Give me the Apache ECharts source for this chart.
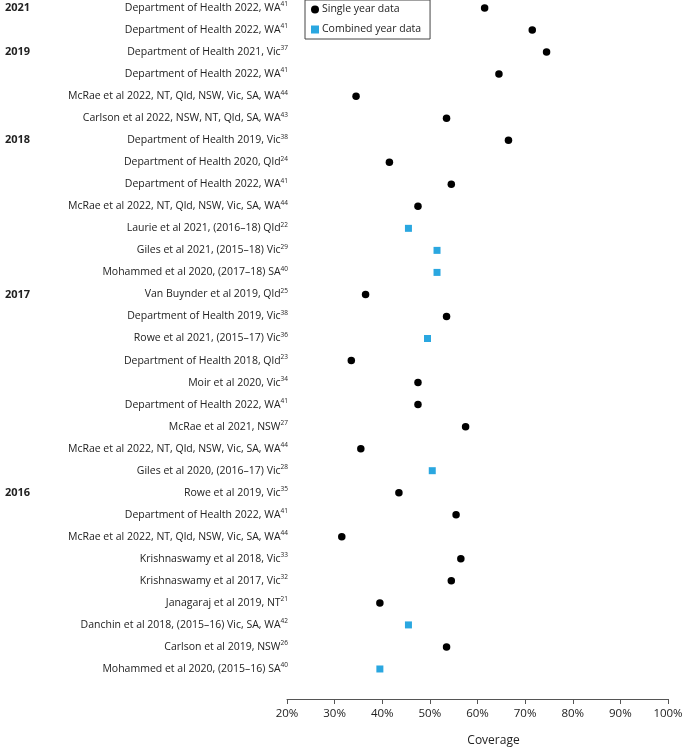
<!DOCTYPE html>
<html>
<head>
<meta charset="utf-8">
<script src="https://cdn.jsdelivr.net/npm/echarts@6/dist/echarts.min.js"></script>
<style>
  html, body { margin: 0; padding: 0; background: #fff; }
  #chart { width: 685px; height: 748px; }
</style>
</head>
<body>
<div id="chart"></div>
<script>
// study labels, top to bottom
const studies = [
  'Department of Health 2022, WA',
  'Department of Health 2022, WA',
  'Department of Health 2021, Vic',
  'Department of Health 2022, WA',
  'McRae et al 2022, NT, Qld, NSW, Vic, SA, WA',
  'Carlson et al 2022, NSW, NT, Qld, SA, WA',
  'Department of Health 2019, Vic',
  'Department of Health 2020, Qld',
  'Department of Health 2022, WA',
  'McRae et al 2022, NT, Qld, NSW, Vic, SA, WA',
  'Laurie et al 2021, (2016–18) Qld',
  'Giles et al 2021, (2015–18) Vic',
  'Mohammed et al 2020, (2017–18) SA',
  'Van Buynder et al 2019, Qld',
  'Department of Health 2019, Vic',
  'Rowe et al 2021, (2015–17) Vic',
  'Department of Health 2018, Qld',
  'Moir et al 2020, Vic',
  'Department of Health 2022, WA',
  'McRae et al 2021, NSW',
  'McRae et al 2022, NT, Qld, NSW, Vic, SA, WA',
  'Giles et al 2020, (2016–17) Vic',
  'Rowe et al 2019, Vic',
  'Department of Health 2022, WA',
  'McRae et al 2022, NT, Qld, NSW, Vic, SA, WA',
  'Krishnaswamy et al 2018, Vic',
  'Krishnaswamy et al 2017, Vic',
  'Janagaraj et al 2019, NT',
  'Danchin et al 2018, (2015–16) Vic, SA, WA',
  'Carlson et al 2019, NSW',
  'Mohammed et al 2020, (2015–16) SA'
];
const refs = ['41','41','37','41','44','43','38','24','41','44','22','29','40','25','38','36','23','34','41','27','44','28','35','41','44','33','32','21','42','26','40'];
const yearLabels = ['2021','','2019','','','','2018','','','','','','','2017','','','','','','','','','2016','','','','','','','',''];
// coverage %, and S = single year, C = combined years
const coverage = [61.5,71.5,74.5,64.5,34.5,53.5,66.5,41.5,54.5,47.5,45.5,51.5,51.5,36.5,53.5,49.5,33.5,47.5,47.5,57.5,35.5,50.5,43.5,55.5,31.5,56.5,54.5,39.5,45.5,53.5,39.5];
const dataType = ['S','S','S','S','S','S','S','S','S','S','C','C','C','S','S','C','S','S','S','S','S','C','S','S','S','S','S','S','C','S','C'];
const xTicks = [20, 30, 40, 50, 60, 70, 80, 90, 100];

const categories = studies.map((s, i) => i);
const pick = t => coverage.map((v, i) => dataType[i] === t ? [v, i] : [null, i]).filter(d => d[0] !== null);

const FONT = 'Open Sans';
const chart = echarts.init(document.getElementById('chart'));
chart.setOption({
  animation: false,
  textStyle: { fontFamily: FONT },
  grid: { left: 287, right: 17, top: -3, height: 683, outerBoundsMode: 'none', containLabel: false },
  legend: {
    left: 305, top: 0,
    orient: 'vertical',
    borderColor: '#444', borderWidth: 1, borderRadius: 0,
    padding: [4, 9, 4, 6],
    itemGap: 9, itemWidth: 8, itemHeight: 8,
    textStyle: { fontFamily: FONT, fontSize: 10.5, color: '#222', padding: [0, 0, 0, -2] },
    data: [
      { name: 'Single year data', icon: 'circle' },
      { name: 'Combined year data', icon: 'rect' }
    ]
  },
  xAxis: {
    type: 'value', min: 20, max: 100, interval: 10,
    offset: 19,
    name: 'Coverage', nameLocation: 'middle', nameGap: 36,
    nameTextStyle: { fontFamily: FONT, fontSize: 12, color: '#222', padding: [0, 0, 0, 32] },
    axisLine: { show: true, lineStyle: { color: '#555', width: 1 } },
    axisTick: { show: true, length: 5, lineStyle: { color: '#555' } },
    axisLabel: { fontSize: 11.5, color: '#222', margin: 9, formatter: v => xTicks.includes(v) ? v + '%' : '' },
    splitLine: { show: false }
  },
  yAxis: [
    {
      type: 'category', data: categories, inverse: true,
      axisLine: { show: false }, axisTick: { show: false }, splitLine: { show: false },
      axisLabel: {
        interval: 0, margin: -1, align: 'right',
        formatter: (v, i) => '{b|' + studies[i] + '}{s|' + refs[i] + '}',
        rich: {
          b: { fontFamily: FONT, fontSize: 10.5, color: '#222', lineHeight: 14 },
          s: { fontFamily: FONT, fontSize: 6.5, color: '#222', verticalAlign: 'top', lineHeight: 14, padding: [0, 0, 4, 0] }
        }
      }
    },
    {
      type: 'category', data: categories, inverse: true, position: 'left',
      axisLine: { show: false }, axisTick: { show: false }, splitLine: { show: false },
      axisLabel: {
        interval: 0, margin: 282, align: 'left',
        fontFamily: FONT, fontSize: 11, fontWeight: 'bold', color: '#222',
        formatter: (v, i) => yearLabels[i]
      }
    }
  ],
  series: [
    {
      name: 'Single year data', type: 'scatter', symbol: 'circle', symbolSize: 7.5,
      itemStyle: { color: '#000', opacity: 1 },
      data: pick('S')
    },
    {
      name: 'Combined year data', type: 'scatter', symbol: 'rect', symbolSize: 7,
      itemStyle: { color: '#2aa7e0', opacity: 1 },
      data: pick('C')
    }
  ]
});
</script>
</body>
</html>
